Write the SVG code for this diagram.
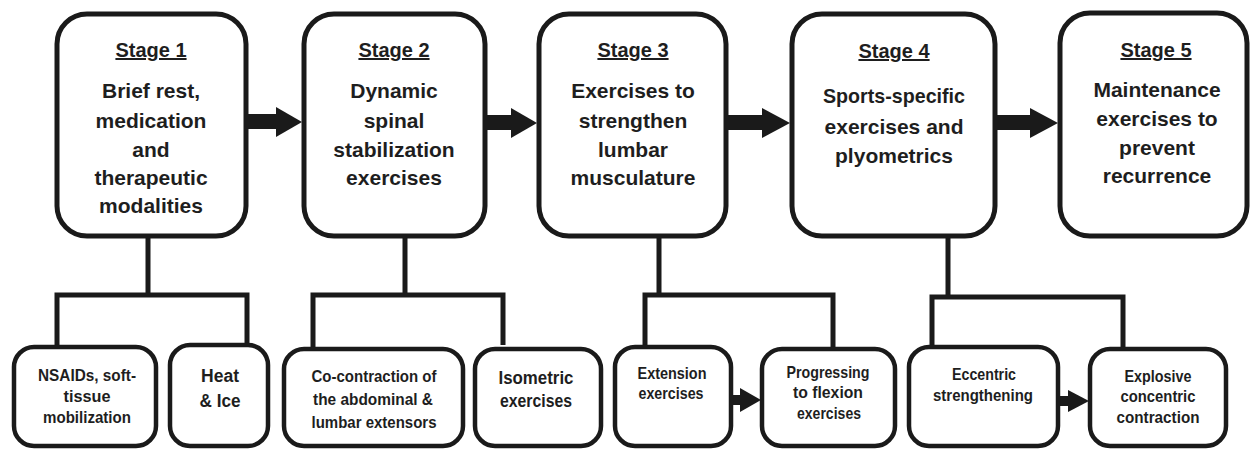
<svg xmlns="http://www.w3.org/2000/svg" width="1252" height="451" viewBox="0 0 1252 451">
<style>
.stage{fill:#fff;stroke:#1a1a1a;stroke-width:5}
.sub{fill:#fff;stroke:#1a1a1a;stroke-width:4.5}
text{font-family:"Liberation Sans",Arial,sans-serif;font-weight:bold;fill:#1e1e1e;text-anchor:middle}
.t{font-size:20px;text-decoration:underline}
.b{font-size:21px}
.s{font-size:17px}
.l{font-size:18px}
.conn{fill:none;stroke:#1a1a1a;stroke-width:5;stroke-linejoin:miter}
.arr{fill:#1a1a1a}
</style>
<rect width="1252" height="451" fill="#fff"/>
<g id="connectors">
<path class="conn" d="M57,345 V295 H247 V345 M148,238 V295"/>
<path class="conn" d="M313,347 V295 H503 V345 M405,238 V295"/>
<path class="conn" d="M645,345 V295 H833 V347 M659,238 V295"/>
<path class="conn" d="M932,345 V297 H1123 V347 M948,238 V297"/>
<g class="arr">
<rect x="248" y="114" width="30" height="15"/><polygon points="276,107 302,122 276,137"/>
<rect x="487" y="115" width="26" height="15"/><polygon points="511,108 537,123 511,138"/>
<rect x="728" y="115" width="36" height="15"/><polygon points="762,108 790,123 762,138"/>
<rect x="997" y="115" width="35" height="15"/><polygon points="1030,108 1058,123 1030,138"/>
<rect x="733" y="395" width="9" height="10"/><polygon points="740,388 761,400 740,412"/>
<rect x="1060" y="396" width="10" height="10"/><polygon points="1068,390 1089,401 1068,412"/>
</g>
</g>
<g id="stage1">
<rect class="stage" x="57" y="14" width="189" height="222" rx="30"/>
<text class="t" x="151" y="57">Stage 1</text>
<text class="b" x="151" y="98">Brief rest,</text>
<text class="b" x="151" y="128">medication</text>
<text class="b" x="151" y="157">and</text>
<text class="b" x="151" y="185">therapeutic</text>
<text class="b" x="151" y="213">modalities</text>
</g>
<g id="stage2">
<rect class="stage" x="304" y="14" width="181" height="222" rx="30"/>
<text class="t" x="394" y="57">Stage 2</text>
<text class="b" x="394" y="98">Dynamic</text>
<text class="b" x="394" y="128">spinal</text>
<text class="b" x="394" y="157">stabilization</text>
<text class="b" x="394" y="185">exercises</text>
</g>
<g id="stage3">
<rect class="stage" x="539" y="14" width="187" height="222" rx="30"/>
<text class="t" x="633" y="57">Stage 3</text>
<text class="b" x="633" y="98">Exercises to</text>
<text class="b" x="633" y="128">strengthen</text>
<text class="b" x="633" y="157">lumbar</text>
<text class="b" x="633" y="185">musculature</text>
</g>
<g id="stage4">
<rect class="stage" x="792" y="14" width="203" height="222" rx="30"/>
<text class="t" x="894" y="58">Stage 4</text>
<text class="b" x="894" y="103" textLength="142" lengthAdjust="spacingAndGlyphs">Sports-specific</text>
<text class="b" x="894" y="134">exercises and</text>
<text class="b" x="894" y="163">plyometrics</text>
</g>
<g id="stage5">
<rect class="stage" x="1060" y="13" width="187" height="223" rx="30"/>
<text class="t" x="1156" y="57">Stage 5</text>
<text class="b" x="1157" y="97">Maintenance</text>
<text class="b" x="1157" y="126">exercises to</text>
<text class="b" x="1157" y="155">prevent</text>
<text class="b" x="1157" y="183">recurrence</text>
</g>
<g id="sub1">
<rect class="sub" x="14" y="347" width="142" height="99" rx="20"/>
<text class="s" x="87" y="381" textLength="98" lengthAdjust="spacingAndGlyphs">NSAIDs, soft-</text>
<text class="s" x="87" y="402" textLength="47" lengthAdjust="spacingAndGlyphs">tissue</text>
<text class="s" x="87" y="423" textLength="88" lengthAdjust="spacingAndGlyphs">mobilization</text>
</g>
<g id="sub2">
<rect class="sub" x="170" y="345" width="98" height="101" rx="20"/>
<text class="l" x="220" y="382" textLength="38" lengthAdjust="spacingAndGlyphs">Heat</text>
<text class="l" x="220" y="407" textLength="41" lengthAdjust="spacingAndGlyphs">&amp; Ice</text>
</g>
<g id="sub3">
<rect class="sub" x="284" y="349" width="179" height="97" rx="20"/>
<text class="s" x="374" y="382" textLength="125" lengthAdjust="spacingAndGlyphs">Co-contraction of</text>
<text class="s" x="373" y="405" textLength="120" lengthAdjust="spacingAndGlyphs">the abdominal &amp;</text>
<text class="s" x="374" y="428" textLength="125" lengthAdjust="spacingAndGlyphs">lumbar extensors</text>
</g>
<g id="sub4">
<rect class="sub" x="475" y="349" width="126" height="97" rx="20"/>
<text class="l" x="536" y="384" textLength="75" lengthAdjust="spacingAndGlyphs">Isometric</text>
<text class="l" x="536" y="407" textLength="72" lengthAdjust="spacingAndGlyphs">exercises</text>
</g>
<g id="sub5">
<rect class="sub" x="615" y="347" width="116" height="99" rx="20"/>
<text class="s" x="672" y="379" textLength="69" lengthAdjust="spacingAndGlyphs">Extension</text>
<text class="s" x="671" y="399" textLength="65" lengthAdjust="spacingAndGlyphs">exercises</text>
</g>
<g id="sub6">
<rect class="sub" x="762" y="349" width="133" height="97" rx="20"/>
<text class="s" x="828" y="378" textLength="83" lengthAdjust="spacingAndGlyphs">Progressing</text>
<text class="s" x="828" y="398" textLength="70" lengthAdjust="spacingAndGlyphs">to flexion</text>
<text class="s" x="829" y="419" textLength="64" lengthAdjust="spacingAndGlyphs">exercises</text>
</g>
<g id="sub7">
<rect class="sub" x="909" y="347" width="149" height="99" rx="20"/>
<text class="s" x="984" y="380" textLength="64" lengthAdjust="spacingAndGlyphs">Eccentric</text>
<text class="s" x="983" y="401" textLength="100" lengthAdjust="spacingAndGlyphs">strengthening</text>
</g>
<g id="sub8">
<rect class="sub" x="1090" y="349" width="136" height="97" rx="20"/>
<text class="s" x="1158" y="382" textLength="67" lengthAdjust="spacingAndGlyphs">Explosive</text>
<text class="s" x="1158" y="402" textLength="75" lengthAdjust="spacingAndGlyphs">concentric</text>
<text class="s" x="1158" y="423" textLength="83" lengthAdjust="spacingAndGlyphs">contraction</text>
</g>
</svg>
